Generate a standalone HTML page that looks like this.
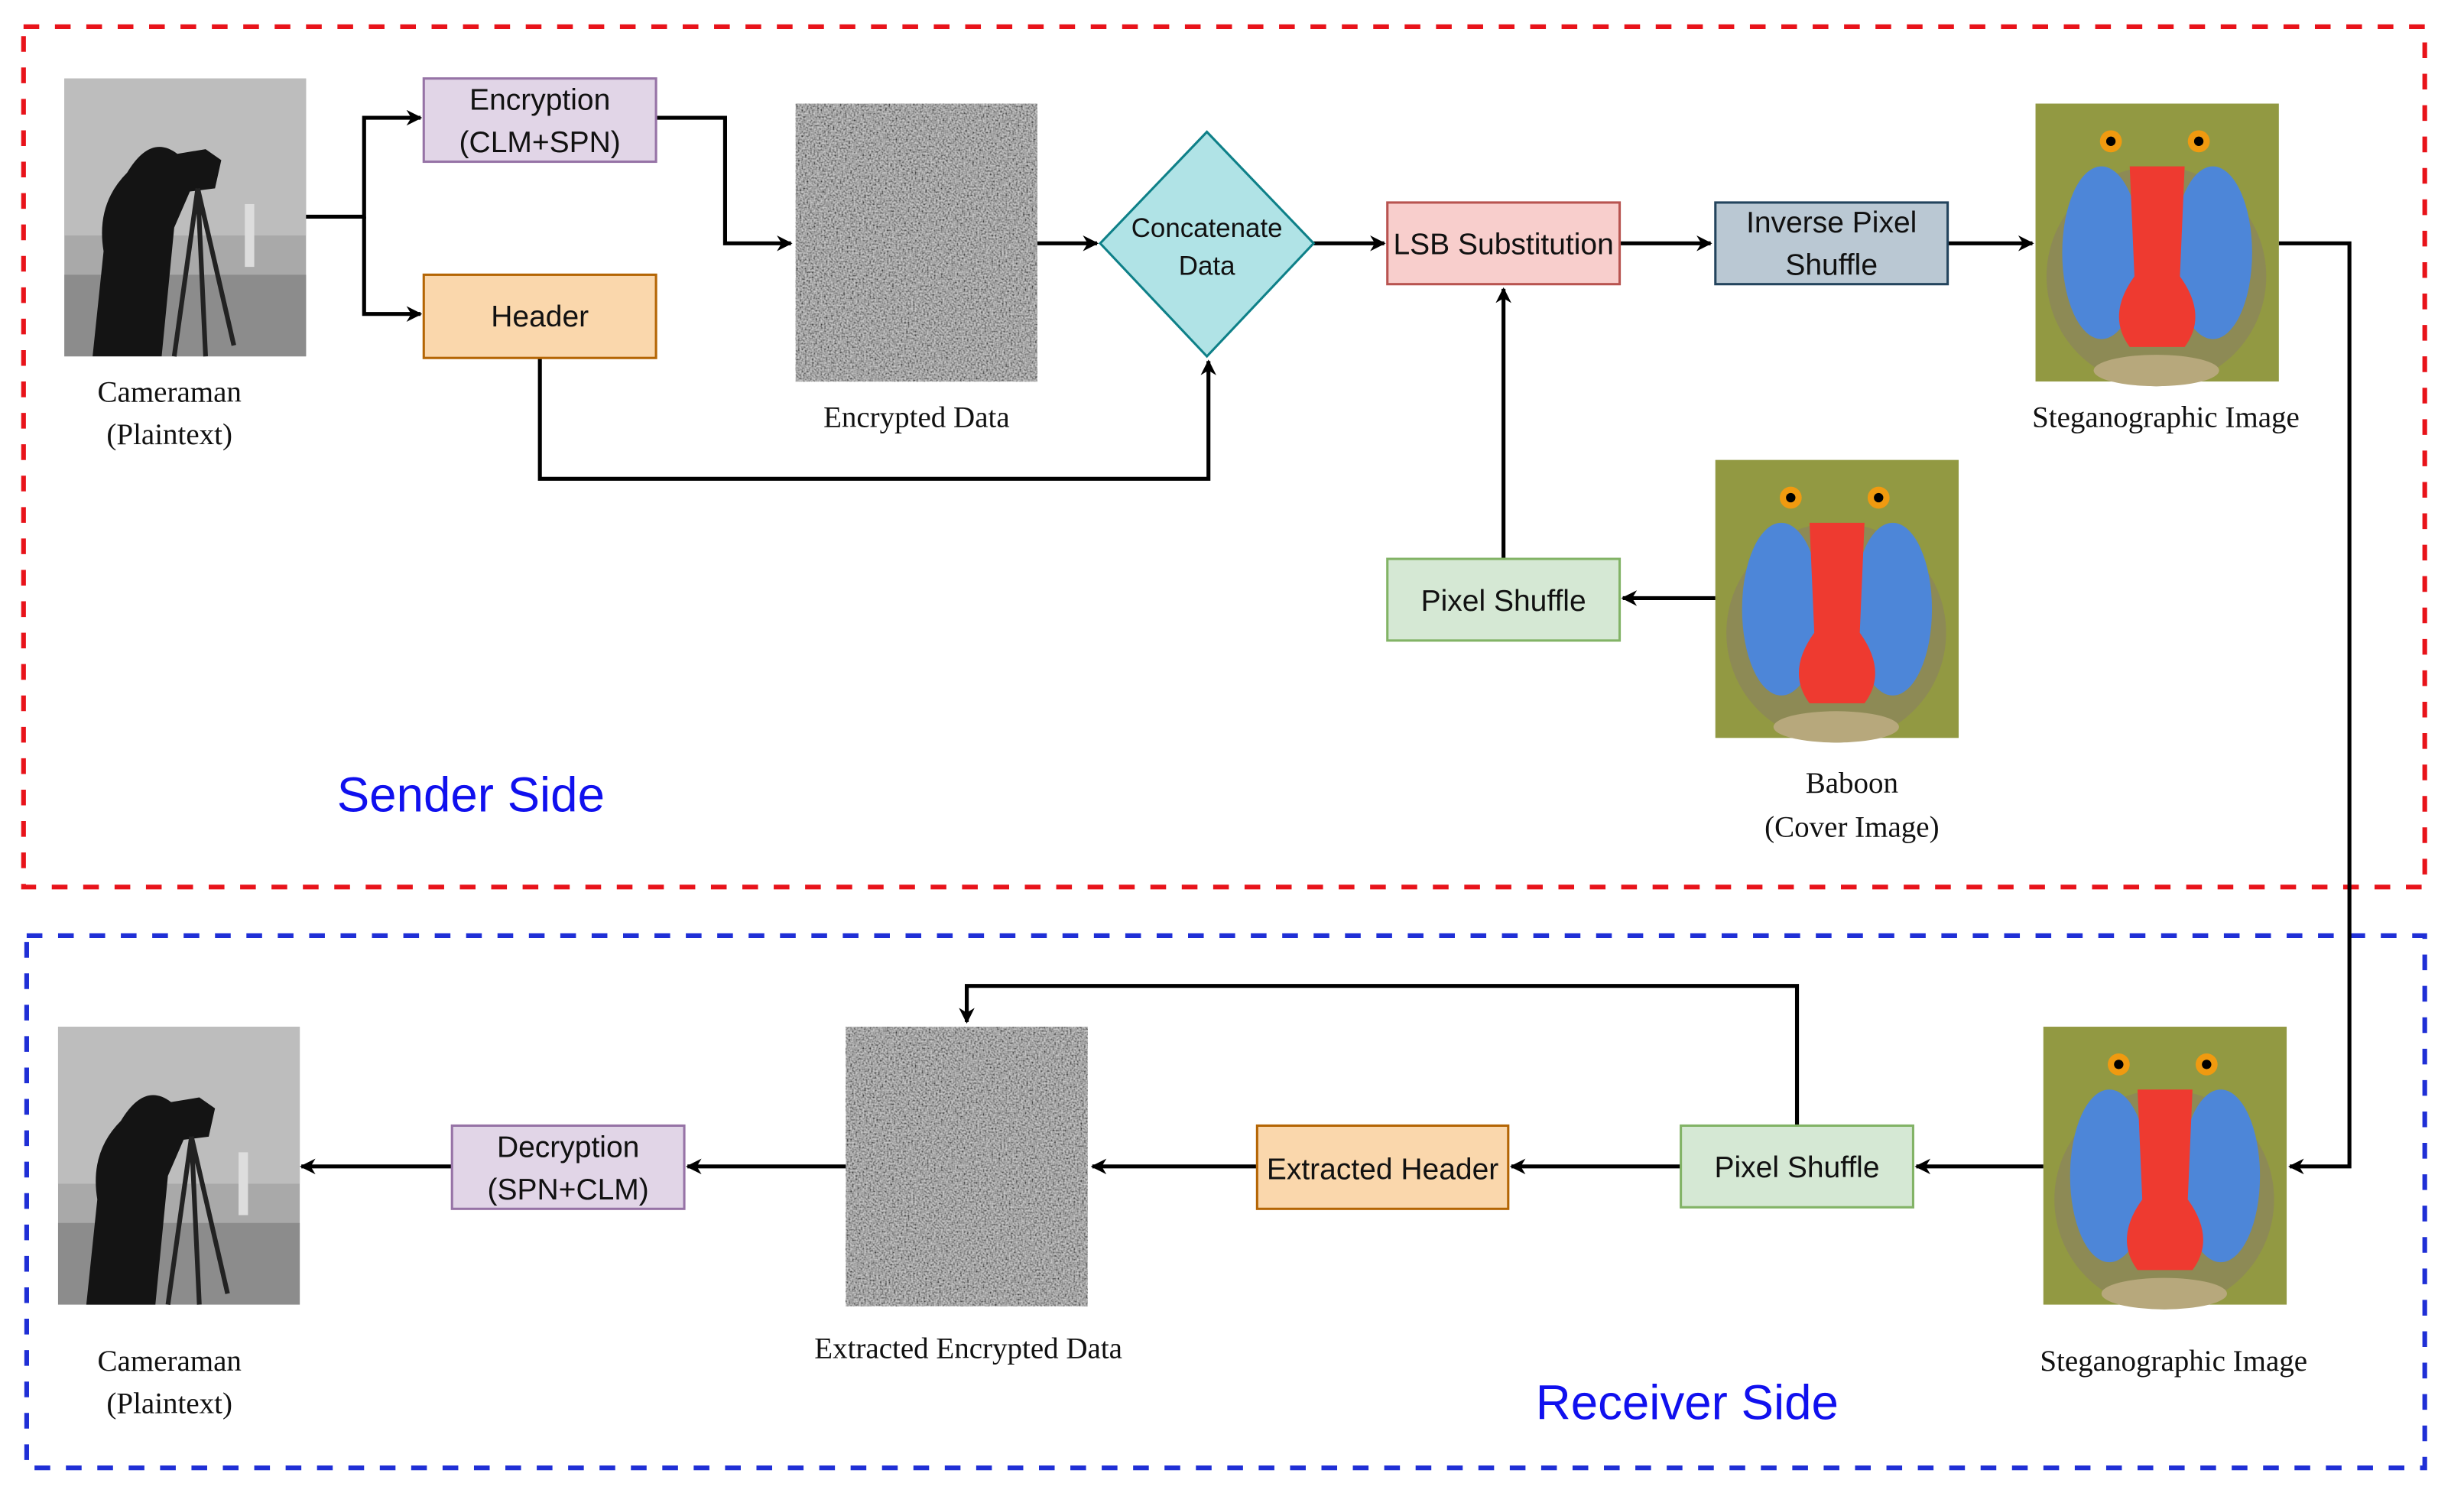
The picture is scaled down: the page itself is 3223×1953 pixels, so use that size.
<!DOCTYPE html>
<html><head><meta charset="utf-8"><style>
html,body{margin:0;padding:0;background:#fff;}
svg{display:block;}
.s{font-family:"Liberation Sans",sans-serif;font-size:19px;fill:#111;text-anchor:middle;}
.r{font-family:"Liberation Serif",serif;font-size:19px;fill:#111;text-anchor:middle;}
.b{font-family:"Liberation Sans",sans-serif;font-size:31px;fill:#1010ee;text-anchor:middle;}
</style></head><body>
<svg width="3223" height="1953" viewBox="0 0 1570 951" preserveAspectRatio="none" xmlns="http://www.w3.org/2000/svg">
<defs>
<marker id="a" markerWidth="10" markerHeight="10" refX="9" refY="5" orient="auto" markerUnits="userSpaceOnUse">
<path d="M0,0 L10,5 L0,10 L3,5 z" fill="#000"/></marker>
<filter id="n" x="0" y="0" width="100%" height="100%">
<feTurbulence type="fractalNoise" baseFrequency="0.9" numOctaves="1" seed="3"/>
<feColorMatrix type="matrix" values="2 0 0 0 -0.5 2 0 0 0 -0.5 2 0 0 0 -0.5 0 0 0 0 1"/>
</filter>
<g id="cam">
<rect width="154" height="177" fill="#a9a9a9"/>
<rect y="0" width="154" height="100" fill="#bdbdbd"/>
<rect y="125" width="154" height="52" fill="#8c8c8c"/>
<rect x="115" y="80" width="6" height="40" fill="#ddd"/>
<path d="M40,60 Q55,35 72,48 L90,45 L100,52 L96,70 L80,72 L70,95 L62,177 L18,177 L25,110 Q20,80 40,60z" fill="#141414"/>
<path d="M85,70 L70,177 M85,70 L90,177 M85,70 L108,170" stroke="#222" stroke-width="3" fill="none"/>
</g>
<g id="bab">
<rect width="155" height="177" fill="#7f8a3a"/>
<rect width="155" height="177" fill="#a6a84a" opacity="0.5"/>
<ellipse cx="77" cy="110" rx="70" ry="70" fill="#8d8a55"/>
<ellipse cx="42" cy="95" rx="25" ry="55" fill="#4d86d8"/>
<ellipse cx="113" cy="95" rx="25" ry="55" fill="#4d86d8"/>
<path d="M60,40 L95,40 L92,110 Q110,135 95,155 L60,155 Q45,135 63,110z" fill="#ee3a30"/>
<circle cx="48" cy="24" r="7" fill="#f09a10"/><circle cx="48" cy="24" r="3" fill="#000"/>
<circle cx="104" cy="24" r="7" fill="#f09a10"/><circle cx="104" cy="24" r="3" fill="#000"/>
<ellipse cx="77" cy="170" rx="40" ry="10" fill="#b7a87c"/>
</g>
</defs>
<rect width="1570" height="951" fill="#fff"/>
<rect x="15" y="17" width="1530" height="548" fill="none" stroke="#e8131a" stroke-width="3" stroke-dasharray="10,10"/>
<rect x="17" y="596" width="1528" height="339" fill="none" stroke="#1f2fd6" stroke-width="3" stroke-dasharray="10,10"/>

<use href="#cam" x="41" y="50"/>
<text class="r" x="108" y="256">Cameraman</text>
<text class="r" x="108" y="283">(Plaintext)</text>

<g stroke="#000" stroke-width="2.5" fill="none">
<path d="M195,138 H232 V75 H268" marker-end="url(#a)"/>
<path d="M232,138 V200 H268" marker-end="url(#a)"/>
<path d="M418,75 H462 V155 H504" marker-end="url(#a)"/>
<path d="M661,155 H699" marker-end="url(#a)"/>
<path d="M344,228 V305 H770 V230" marker-end="url(#a)"/>
<path d="M837,155 H882" marker-end="url(#a)"/>
<path d="M1032,155 H1090" marker-end="url(#a)"/>
<path d="M1241,155 H1295" marker-end="url(#a)"/>
<path d="M1452,155 H1497 V743 H1459" marker-end="url(#a)"/>
<path d="M958,356 V184" marker-end="url(#a)"/>
<path d="M1093,381 H1034" marker-end="url(#a)"/>
<path d="M1302,743 H1221" marker-end="url(#a)"/>
<path d="M1145,717 V628 H616 V651" marker-end="url(#a)"/>
<path d="M1071,743 H963" marker-end="url(#a)"/>
<path d="M801,743 H696" marker-end="url(#a)"/>
<path d="M539,743 H438" marker-end="url(#a)"/>
<path d="M288,743 H192" marker-end="url(#a)"/>
</g>

<rect x="270" y="50" width="148" height="53" fill="#e1d5e7" stroke="#9673a6" stroke-width="1.5"/>
<text class="s" x="344" y="70">Encryption</text><text class="s" x="344" y="97">(CLM+SPN)</text>
<rect x="270" y="175" width="148" height="53" fill="#fad7ac" stroke="#b46504" stroke-width="1.5"/>
<text class="s" x="344" y="208">Header</text>

<rect x="507" y="66" width="154" height="177" fill="#888"/>
<rect x="507" y="66" width="154" height="177" filter="url(#n)" opacity="0.55"/>
<text class="r" x="584" y="272">Encrypted Data</text>

<polygon points="701,155 769,84 837,155 769,227" fill="#b0e3e6" stroke="#0e8088" stroke-width="1.5"/>
<text class="s" x="769" y="151" style="font-size:17px">Concatenate</text>
<text class="s" x="769" y="175" style="font-size:17px">Data</text>

<rect x="884" y="129" width="148" height="52" fill="#f8cecc" stroke="#b85450" stroke-width="1.5"/>
<text class="s" x="958" y="162">LSB Substitution</text>
<rect x="1093" y="129" width="148" height="52" fill="#bac8d3" stroke="#23445d" stroke-width="1.5"/>
<text class="s" x="1167" y="148">Inverse Pixel</text><text class="s" x="1167" y="175">Shuffle</text>

<use href="#bab" x="1297" y="66"/>
<text class="r" x="1380" y="272">Steganographic Image</text>

<rect x="884" y="356" width="148" height="52" fill="#d5e8d4" stroke="#82b366" stroke-width="1.5"/>
<text class="s" x="958" y="389">Pixel Shuffle</text>
<use href="#bab" x="1093" y="293"/>
<text class="r" x="1180" y="505">Baboon</text>
<text class="r" x="1180" y="533">(Cover Image)</text>
<text class="b" x="300" y="517">Sender Side</text>

<use href="#bab" x="1302" y="654"/>
<text class="r" x="1385" y="873">Steganographic Image</text>
<rect x="1071" y="717" width="148" height="52" fill="#d5e8d4" stroke="#82b366" stroke-width="1.5"/>
<text class="s" x="1145" y="750">Pixel Shuffle</text>
<rect x="801" y="717" width="160" height="53" fill="#fad7ac" stroke="#b46504" stroke-width="1.5"/>
<text class="s" x="881" y="751">Extracted Header</text>
<rect x="539" y="654" width="154" height="178" fill="#888"/>
<rect x="539" y="654" width="154" height="178" filter="url(#n)" opacity="0.55"/>
<text class="r" x="617" y="865">Extracted Encrypted Data</text>
<rect x="288" y="717" width="148" height="53" fill="#e1d5e7" stroke="#9673a6" stroke-width="1.5"/>
<text class="s" x="362" y="737">Decryption</text><text class="s" x="362" y="764">(SPN+CLM)</text>
<use href="#cam" x="37" y="654"/>
<text class="r" x="108" y="873">Cameraman</text>
<text class="r" x="108" y="900">(Plaintext)</text>
<text class="b" x="1075" y="904">Receiver Side</text>
</svg>
</body></html>
